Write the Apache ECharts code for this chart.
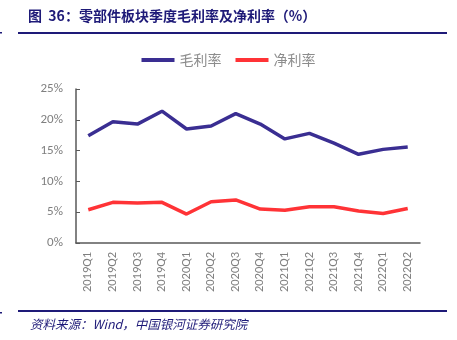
<!DOCTYPE html>
<html>
<head>
<meta charset="utf-8">
<script src="https://cdn.jsdelivr.net/npm/echarts@6/dist/echarts.min.js"></script>
<style>
  html, body { margin: 0; padding: 0; background: #fff; }
  #chart { width: 457px; height: 340px; }
</style>
</head>
<body>
<div id="chart"></div>
<script>
// Quarterly gross margin and net margin of the auto parts sector (%)
const quarters = ['2019Q1','2019Q2','2019Q3','2019Q4','2020Q1','2020Q2','2020Q3',
                  '2020Q4','2021Q1','2021Q2','2021Q3','2021Q4','2022Q1','2022Q2'];
const grossMargin = [17.4, 19.7, 19.3, 21.4, 18.5, 19.0, 21.0, 19.3, 16.9, 17.8, 16.2, 14.4, 15.2, 15.6];
const netMargin   = [5.4, 6.6, 6.5, 6.6, 4.7, 6.7, 7.0, 5.5, 5.3, 5.9, 5.9, 5.2, 4.8, 5.6];
const yTicks = [0, 5, 10, 15, 20, 25];

const navy = '#1E1A78';
const chart = echarts.init(document.getElementById('chart'));

chart.setOption({
  animation: false,
  backgroundColor: '#fff',
  graphic: [
    { type: 'text', left: 28, top: 9,
      style: { text: '图  36：零部件板块季度毛利率及净利率（%）', fill: navy,
               font: 'bold 14px "Noto Sans CJK SC", serif' } },
    { type: 'rect', shape: { x: 18, y: 32, width: 429, height: 2 }, style: { fill: navy } },
    { type: 'rect', shape: { x: 0, y: 32, width: 2, height: 1.5 }, style: { fill: navy } },
    { type: 'rect', shape: { x: 18, y: 310, width: 429, height: 2 }, style: { fill: navy } },
    { type: 'rect', shape: { x: 0, y: 312, width: 2, height: 1.5 }, style: { fill: navy } },
    { type: 'text', left: 30, top: 318,
      style: { text: '资料来源：Wind，中国银河证券研究院', fill: navy,
               font: 'italic 12.5px "Noto Sans CJK SC", serif' } }
  ],
  legend: {
    top: 48, left: 'center', itemGap: 14, itemWidth: 33, itemHeight: 4,
    icon: 'rect',
    textStyle: { color: '#8c8c8c', fontSize: 14, fontFamily: '"Noto Sans CJK SC", sans-serif' },
    data: ['毛利率', '净利率']
  },
  grid: { left: 76, right: 37, top: 89, bottom: 97, containLabel: false },
  xAxis: {
    type: 'category', data: quarters, boundaryGap: true,
    axisLine: { lineStyle: { color: '#595959', width: 1.5 } },
    axisTick: { show: false },
    axisLabel: { rotate: 90, color: '#7f7f7f', fontSize: 12.5, margin: 9,
                 fontFamily: 'Calibri, Carlito, "Liberation Sans", sans-serif' }
  },
  yAxis: {
    type: 'value', min: yTicks[0], max: yTicks[yTicks.length - 1], interval: 5,
    axisLine: { show: true, lineStyle: { color: '#595959', width: 1.5 } },
    axisTick: { show: true, inside: true, length: 4, lineStyle: { color: '#595959' } },
    splitLine: { show: false },
    axisLabel: { color: '#7f7f7f', fontSize: 13, margin: 13, formatter: '{value}%',
                 fontFamily: 'Calibri, Carlito, "Liberation Sans", sans-serif' }
  },
  series: [
    { name: '毛利率', type: 'line', data: grossMargin, symbol: 'none',
      lineStyle: { color: '#3A2E92', width: 3.5 }, itemStyle: { color: '#3A2E92' } },
    { name: '净利率', type: 'line', data: netMargin, symbol: 'none',
      lineStyle: { color: '#FF3336', width: 3.5 }, itemStyle: { color: '#FF3336' } }
  ]
});
</script>
</body>
</html>
